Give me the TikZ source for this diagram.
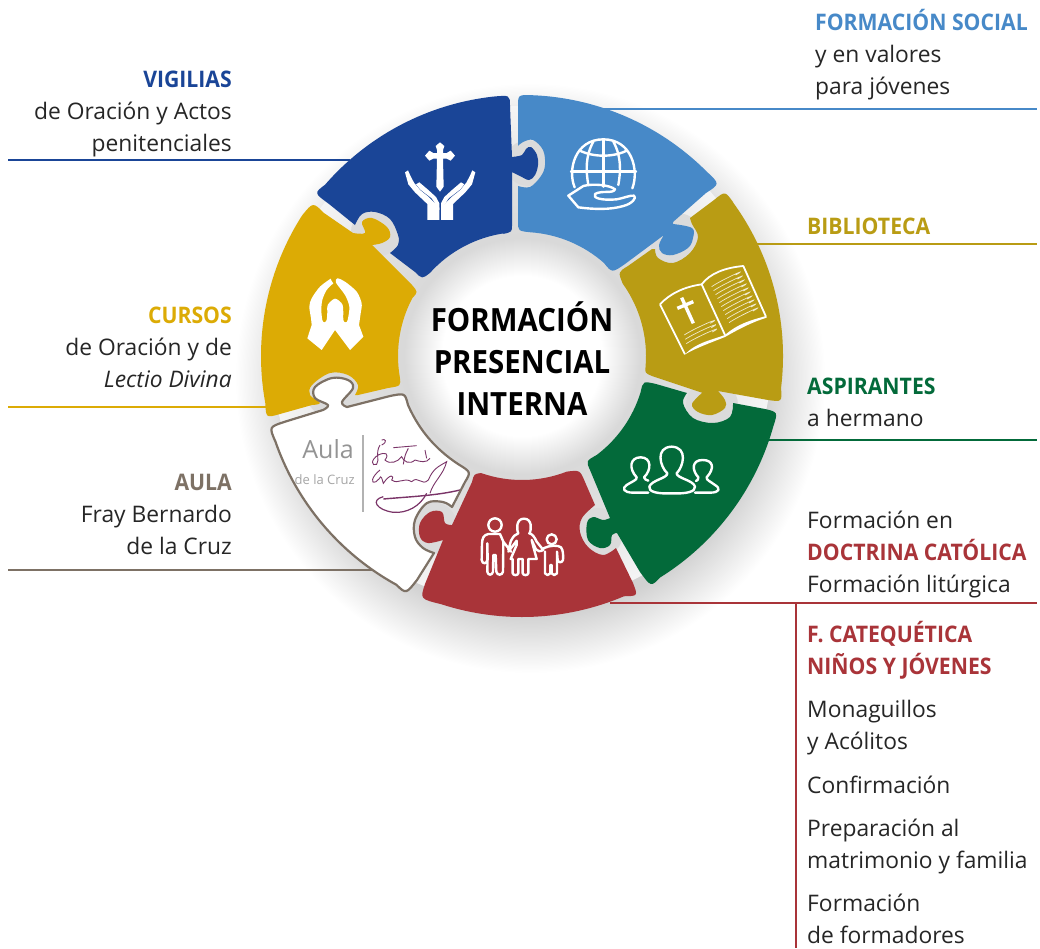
\documentclass[tikz,border=0pt]{standalone}
\usepackage{fontspec}
\setmainfont{Open Sans}
\newfontfamily\centerfont[FakeStretch=0.92]{Open Sans}
\newfontfamily\boldlabel[FakeStretch=0.93]{Open Sans}
\usetikzlibrary{calc}
\definecolor{cblue}{HTML}{1A4597}
\definecolor{clight}{HTML}{4789C8}
\definecolor{cgold}{HTML}{B99C14}
\definecolor{cyel}{HTML}{DCAB05}
\definecolor{cgreen}{HTML}{036A3A}
\definecolor{cred}{HTML}{A93439}
\definecolor{cbrown}{HTML}{7D7165}
\definecolor{csig}{HTML}{7A3468}
\pgfdeclareradialshading{ringshade}{\pgfpoint{0bp}{0bp}}{color(0bp)=(white); color(8bp)=(white); color(11.8bp)=(black!15); color(17bp)=(black!12); color(25bp)=(black!4); color(50bp)=(black!4)}
\pgfdeclareradialshading{shadowshade}{\pgfpoint{0bp}{0bp}}{color(0bp)=(black!18); color(20bp)=(black!18); color(25bp)=(white); color(50bp)=(white)}
\tikzset{
  x=1pt,y=-1pt,
  lab/.style={font=\fontsize{22.8}{32}\selectfont,inner sep=0pt,anchor=base west,text=black!85},
  labr/.style={font=\fontsize{22.8}{32}\selectfont,inner sep=0pt,anchor=base east,text=black!85},
  leader/.style={line width=2.9pt},
  icon/.style={white,line width=2.4pt,line cap=round,line join=round},
  piece/.style={line join=round},
  gap/.style={fill=black!14}
}
\newcommand{\ol}[1]{($(522,356)+(#1:261)$)}
\newcommand{\il}[1]{($(522,356)+(#1:124)$)}
\newcommand{\blab}[1]{{\boldlabel\bfseries #1}}
\begin{document}
\begin{tikzpicture}
\useasboundingbox (0,0) rectangle (1040,948);
\fill[white] (0,0) rectangle (1040,948);
% shadow and central gradient
\shade[shading=shadowshade] (530,378) circle[radius=295];
\shade[shading=ringshade] (522,356) circle[radius=250];
% halos around the tabs
\fill[gap] (528,163) circle[radius=23];
\fill[gap] (677,240) circle[radius=27];
\fill[gap] (712,405) circle[radius=26];
\fill[gap] (598,533) circle[radius=25];
\fill[gap] (376,232) circle[radius=25];
\fill[gap] (432,528) circle[radius=26];
\fill[gap] (333,390) circle[radius=28];

% leader lines
\coordinate (l1a) at (600,109); \coordinate (l1b) at (1037,109);
\coordinate (l2a) at (757,244); \coordinate (l2b) at (1037,244);
\coordinate (l3a) at (765,440); \coordinate (l3b) at (1037,440);
\coordinate (l4a) at (610,603); \coordinate (l4b) at (1037,603);
\coordinate (l4c) at (796,603); \coordinate (l4d) at (796,948);
\coordinate (l5a) at (8,160); \coordinate (l5b) at (350,160);
\coordinate (l6a) at (8,407); \coordinate (l6b) at (275,407);
\coordinate (l7a) at (8,570); \coordinate (l7b) at (372,570);
\draw[leader,clight] (l1a)--(l1b);
\draw[leader,cgold] (l2a)--(l2b);
\draw[leader,cgreen] (l3a)--(l3b);
\draw[leader,cred] (l4a)--(l4b);
\draw[leader,cred] (l4c)--(l4d);
\draw[leader,cblue] (l5a)--(l5b);
\draw[leader,cyel] (l6a)--(l6b);
\draw[leader,cbrown] (l7a)--(l7b);

% BLUE
\fill[cblue,piece] (510,106) -- (512,157)
 -- plot[smooth,tension=.6] coordinates {(512,157)(522,155)(526,149)(531,147)(537,155)(538,165)(535,175)(529,180)(520,176)(512,172)}
 -- (512,225) .. controls (512,232) .. (503,234)
 -- \il{262} arc[start angle=262,end angle=222,radius=124]
 .. controls (422,279) .. (415,272) -- (390,253)
 -- plot[smooth,tension=.6] coordinates {(390,253)(398,245)(398,235)(390,219)(375,212)(362,214)(355,225)}
 -- (329,204) .. controls (314,193) .. \ol{221}
 arc[start angle=221,end angle=263.5,radius=261]
 .. controls (510,95) .. (510,106) -- cycle;

% LIGHT BLUE
\fill[clight,piece] (518,107) .. controls (518,95) .. (530,95)
 -- \ol{271.8} arc[start angle=271.8,end angle=315,radius=261]
 .. controls (720,184) .. (706,193) -- (673,222)
 -- plot[smooth,tension=.6] coordinates {(673,224)(692,228)(693,238)(688,248)(673,255)(662,253)(659,245)(664,235)}
 -- (625,264) .. controls (612,273) .. (604,263)
 -- \il{311.5} arc[start angle=311.5,end angle=274,radius=124]
 .. controls (518,231) .. (518,221)
 -- (518,186)
 -- plot[smooth,tension=.6] coordinates {(518,186)(530,187)(541,176)(545,165)(543,150)(533,140)(523,142)(518,146)}
 -- cycle;

% GOLD
\fill[cgold,piece] (714,200) .. controls (725,191) .. (733,202)
 -- \ol{-36} arc[start angle=-36,end angle=7,radius=261]
 .. controls (782,402) .. (768,400) -- (718,391)
 -- plot[smooth,tension=.6] coordinates {(718,391)(725,400)(725,408)(712,415)(698,412)(692,404)(702,393)}
 -- (703,393) -- (652,376) .. controls (645,373) .. \il{5}
 arc[start angle=5,end angle=-35.7,radius=124]
 .. controls (618,272) .. (628,266) -- (652,249)
 -- plot[smooth,tension=.6] coordinates {(655,249)(658,258)(673,263)(690,253)(698,237)(692,224)(690,218)}
 -- cycle;

% GREEN
\fill[cgreen,piece] (656,384) -- (687,393)
 -- plot[smooth,tension=.6] coordinates {(687,393)(683,403)(693,418)(713,423)(730,417)(733,403)}
 -- (765,409) .. controls (778,412) .. \ol{15.8}
 arc[start angle=15.8,end angle=58,radius=261]
 .. controls (651,587) .. (640,572) -- (617,533)
 -- plot[smooth,tension=.6] coordinates {(617,533)(612,535)(610,545)(600,548)(588,540)(587,523)(593,517)(603,520)(610,518)}
 -- (590,470) .. controls (586,461) .. \il{52.9}
 arc[start angle=52.9,end angle=17,radius=124]
 .. controls (643,381) .. (656,384) -- cycle;

% RED
\fill[cred,piece] (472,482) .. controls (474,474) .. \il{109.3}
 arc[start angle=109.3,end angle=68.8,radius=124]
 .. controls (580,470) .. (585,482) -- (595,505)
 -- plot[smooth,tension=.6] coordinates {(595,505)(582,518)(580,532)(588,547)(603,555)(616,548)}
 -- (633,583) .. controls (638,596) .. \ol{67}
 arc[start angle=67,end angle=108,radius=261]
 .. controls (420,599) .. (425,584) -- (443,540)
 -- plot[smooth,tension=.6] coordinates {(443,540)(428,543)(420,537)(420,523)(430,512)(442,512)(445,523)(452,525)}
 -- cycle;

% YELLOW
\fill[cyel,piece] (324,213) -- (353,233)
 -- plot[smooth,tension=.6] coordinates {(353,233)(365,233)(362,222)(372,218)(387,227)(390,237)(382,243)(372,245)}
 -- (412,285) .. controls (418,292) .. \il{207.8}
 arc[start angle=207.8,end angle=170.4,radius=124]
 .. controls (401,386) .. (388,388) -- (358,395)
 -- plot[smooth,tension=.6] coordinates {(355,395)(358,385)(348,375)(330,373)(312,385)(310,395)(320,403)(312,405)}
 -- (280,414) .. controls (266,418) .. \ol{169.6}
 arc[start angle=169.6,end angle=212.6,radius=261]
 .. controls (313,202) .. (324,213) -- cycle;

% AULA
\def\aulapath{(284,422) -- (323,410)
 -- plot[smooth,tension=.6] coordinates {(323,410)(328,405)(315,398)(315,387)(332,378)(348,380)(353,388)(342,402)(347,407)}
 -- (390,396) .. controls (405,393) .. (408,405) .. controls (420,432) and (437,450) .. (458,464)
 .. controls (471,472) .. (465,482) -- (452,507)
 -- plot[smooth,tension=.6] coordinates {(452,507)(443,502)(427,503)(415,520)(415,537)(423,548)(434,553)}
 -- (417,580) .. controls (406,594) .. \ol{118.8}
 arc[start angle=118.8,end angle=160.8,radius=261]
 .. controls (269,427) .. (284,422) -- cycle}
\fill[white] \aulapath;
\begin{scope}
\clip \aulapath;
\node[inner sep=0pt,anchor=base east,font=\fontsize{25}{30}\selectfont,text=black!42] (aulat) at (354,458) {Aula};
\node[inner sep=0pt,anchor=base east,font=\fontsize{13}{16}\selectfont,text=black!35] (aulac) at (355,484) {de la Cruz};
\draw[line width=1.8pt,black!30] (363,435)--(363,512);
\begin{scope}[shift={(270,425)},scale=.3333]
\draw[csig,line width=.9pt] (335,45)..controls(345,40)and(355,50)..(335,60);
\draw[csig,line width=.9pt] (330,60)..controls(315,85)and(330,105)..(320,118)..controls(305,125)and(300,105)..(325,90)..controls(345,80)and(360,85)..(345,105)..controls(360,120)and(385,110)..(395,95)..controls(400,110)and(420,120)..(435,105)..controls(450,110)and(470,115)..(480,100);
\draw[csig,line width=.9pt] (370,68)--(440,62) (415,70)..controls(405,90)..(400,118) (465,75)--(470,100);
\draw[csig,line width=.9pt] (330,135)..controls(305,155)and(300,178)..(318,170)..controls(335,160)and(330,140)..(340,175)..controls(360,145)and(375,150)..(365,165)..controls(385,180)and(400,155)..(425,170)..controls(445,150)and(455,185)..(475,165)..controls(490,130)and(505,125)..(530,110)..controls(520,150)and(490,170)..(480,205);
\draw[csig,line width=1.4pt] (340,222)..controls(420,215)and(500,212)..(570,195);
\draw[csig,line width=1.2pt] (340,215)..controls(300,225)and(320,255)..(370,262)..controls(410,265)and(450,245)..(470,205);
\end{scope}
\end{scope}
\draw[cbrown,line width=2.2pt,line join=round] \aulapath;

% ICON: cross and hands
\begin{scope}[shift={(400,135)},scale=.3333]
\fill[white] (120,22)--(133,33)--(129,45)--(129,54)--(140,54)--(152,47)--(165,62)--(152,77)--(140,71)--(129,71)--(131,155)--(120,170)--(109,155)--(111,71)--(100,71)--(88,77)--(75,62)--(88,47)--(100,54)--(111,54)--(111,45)--(107,33)--cycle;
\foreach \s/\o in {1/0,-1/241}{
\begin{scope}[shift={(\o,0)},xscale=\s]
\fill[white] (15,112)--(24,106)--(31,122)--(42,143)--(60,165)--(85,185)--(118,218)--(118,255)--(82,255)--(82,207)--(45,172)--(25,148)--cycle;
\fill[white] (48,148)--(58,142)--(85,165)--(108,186)--(118,205)--(118,225)--(95,190)--(60,163)--cycle;
\end{scope}}
\end{scope}

% ICON: praying hands
\begin{scope}[shift={(300,270)},scale=.3333]
\fill[white] (95,33) -- plot[smooth,tension=.5] coordinates {(92,26)(60,50)(35,85)(28,110)(33,145)(35,165)}
 -- (22,205) -- (65,240) -- (105,180) -- (150,240) -- (190,200) -- (177,165)
 -- plot[smooth,tension=.5] coordinates {(177,165)(182,130)(185,100)(170,65)(135,35)(112,25)(108,38)(135,75)(148,110)(143,150)(137,157)(130,150)(128,105)(105,86)(83,105)(82,125)(80,150)(73,157)(67,150)(64,120)(67,90)(80,60)(100,40)}
 -- cycle;
\end{scope}

% ICON: family
\begin{scope}[shift={(475,510)},scale=.3333]
\draw[icon] (60,45) circle[radius=20];
\draw[icon] (38,130)--(37,185)..controls(38,197)and(52,197)..(54,185)--(55,135)--(62,135)--(64,185)..controls(66,197)and(82,197)..(84,185)--(85,95)--(108,125) (85,95)--(75,72)--(40,72)..controls(25,75)and(22,85)..(21,100)--(20,150)..controls(22,163)and(35,163)..(37,150)--(37,100);
\draw[icon] (147,26)..controls(122,26)and(125,60)..(130,70)..controls(120,72)and(115,80)..(108,92)--(100,120) (147,26)..controls(172,26)and(170,60)..(163,70)..controls(172,72)and(178,80)..(185,95)--(205,120)..controls(195,125)and(188,125)..(183,118)--(170,90)--(175,110)--(185,147)--(160,147)--(160,190)..controls(158,197)and(145,197)..(143,190)--(143,147)--(130,147)--(130,190)..controls(128,197)and(115,197)..(113,190)--(113,147)--(107,147)--(125,105)--(125,92)--(100,125);
\draw[icon] (230,88) circle[radius=15];
\draw[icon] (205,115)..controls(225,105)and(250,105)..(258,112)..controls(265,120)and(265,140)..(264,150)..controls(260,160)and(250,158)..(248,150)--(246,125)--(246,190)..controls(243,197)and(232,197)..(230,190)--(230,165)--(226,165)--(226,190)..controls(223,197)and(212,197)..(210,190)--(210,125);
\end{scope}

% ICON: globe and hand
\begin{scope}[shift={(560,130)},scale=.3333]
\draw[icon] (44,172) .. controls (22,120) and (45,28) .. (130,28) .. controls (215,28) and (238,120) .. (217,175);
\draw[icon] (33,125)--(228,125);
\draw[icon] (130,28)--(130,170);
\draw[icon] (100,35)..controls(75,80)and(78,125)..(85,165);
\draw[icon] (160,35)..controls(185,80)and(182,125)..(175,165);
\draw[icon] (60,62)..controls(100,82)and(160,82)..(200,62);
\draw[icon] (25,197)--(70,168)..controls(100,160)and(150,165)..(165,178)..controls(160,192)and(125,180)..(105,192)..controls(95,205)and(130,212)..(170,208)..controls(190,205)and(210,195)..(222,197)..controls(232,203)and(215,222)..(190,228)..controls(150,240)and(100,238)..(55,232)--cycle;
\end{scope}

% ICON: book
\begin{scope}[shift={(650,255)},scale=.3333]
\draw[white,line width=1.8pt,line join=round] (30,148)..controls(60,115)and(105,95)..(155,88)..controls(180,55)and(225,38)..(280,33)--(348,185);
\draw[white,line width=1.8pt] (155,88)--(225,240);
\draw[white,line width=1.8pt] (30,148)--(105,298);
\fill[white] (105,298)..controls(140,262)and(185,255)..(225,240)..controls(265,205)and(305,195)..(348,183)--(350,188)..controls(310,200)and(270,220)..(225,246)..controls(185,262)and(140,278)..(105,298)--cycle;
\foreach \i in {0,...,9}{
\draw[white!80!cgold,line width=.7pt] ($(185,95)+(\i*5.8,\i*12)$)..controls +(25,-18) and +(50,-28)..+(72,-35);}
\foreach \i in {0,1,2}{
\draw[white!80!cgold,line width=.7pt] ($(103,240)+(\i*3,\i*13)$)..controls +(25,-18) and +(50,-28)..+(78,-35);}
\draw[white,line width=3.4pt] (95,128)--(130,205);
\draw[white,line width=3.4pt] (82,160)--(130,140);
\end{scope}

% ICON: people
\begin{scope}[shift={(580,370)},scale=.3333]
\draw[icon] (275,370)..controls(230,372)and(205,365)..(208,350)..controls(215,330)and(262,325)..(262,310)..controls(240,290)and(225,232)..(275,230)..controls(325,232)and(310,290)..(290,310)..controls(290,325)and(340,330)..(345,350)..controls(347,365)and(320,372)..(275,370);
\draw[icon] (205,368)--(160,368)..controls(130,368)and(125,355)..(140,345)..controls(155,335)and(172,330)..(170,322)..controls(145,295)and(150,262)..(182,262)..controls(215,262)and(215,300)..(192,322)..controls(192,330)and(200,328)..(205,332);
\draw[icon] (345,368)--(390,368)..controls(420,368)and(422,355)..(405,345)..controls(392,335)and(378,330)..(380,322)..controls(405,295)and(400,270)..(368,270)..controls(335,270)and(335,300)..(355,322)..controls(358,330)and(350,330)..(348,333);
\end{scope}

% CENTER TEXT
\node[inner sep=0pt,anchor=base,font=\fontsize{32}{42}\centerfont\bfseries] (c1) at (522,331) {FORMACIÓN};
\node[inner sep=0pt,anchor=base,font=\fontsize{32}{42}\centerfont\bfseries] (c2) at (522,373) {PRESENCIAL};
\node[inner sep=0pt,anchor=base,font=\fontsize{32}{42}\centerfont\bfseries] (c3) at (522,415) {INTERNA};

% LABELS RIGHT
\node[lab,text=clight] (t1) at (815,30) {\blab{FORMACIÓN SOCIAL}};
\node[lab] (t2) at (815,62) {y en valores};
\node[lab] (t3) at (815,94) {para jóvenes};
\node[lab,text=cgold] (t4) at (807,234) {\blab{BIBLIOTECA}};
\node[lab,text=cgreen] (t5) at (807,394) {\blab{ASPIRANTES}};
\node[lab] (t6) at (807,426) {a hermano};
\node[lab] (t7) at (807,528) {Formación en};
\node[lab,text=cred] (t8) at (807,560) {\blab{DOCTRINA CATÓLICA}};
\node[lab] (t9) at (807,592) {Formación litúrgica};
\node[lab,text=cred] (t10) at (807,642) {\blab{F. CATEQUÉTICA}};
\node[lab,text=cred] (t11) at (807,674) {\blab{NIÑOS Y JÓVENES}};
\node[lab] (t12) at (807,717) {Monaguillos};
\node[lab] (t13) at (807,749) {y Acólitos};
\node[lab] (t14) at (807,793) {Confirmación};
\node[lab] (t15) at (807,836) {Preparación al};
\node[lab] (t16) at (807,868) {matrimonio y familia};
\node[lab] (t17) at (807,911) {Formación};
\node[lab] (t18) at (807,943) {de formadores};
% LABELS LEFT
\node[labr,text=cblue] (t19) at (232,87.5) {\blab{VIGILIAS}};
\node[labr] (t20) at (232,119.5) {de Oración y Actos};
\node[labr] (t21) at (232,151.5) {penitenciales};
\node[labr,text=cyel] (t22) at (232,323.5) {\blab{CURSOS}};
\node[labr] (t23) at (232,355.5) {de Oración y de};
\node[labr] (t24) at (232,387.5) {\itshape Lectio Divina};
\node[labr,text=cbrown] (t25) at (232,490.5) {\blab{AULA}};
\node[labr] (t26) at (232,522.5) {Fray Bernardo};
\node[labr] (t27) at (232,554.5) {de la Cruz};
\end{tikzpicture}
\end{document}
